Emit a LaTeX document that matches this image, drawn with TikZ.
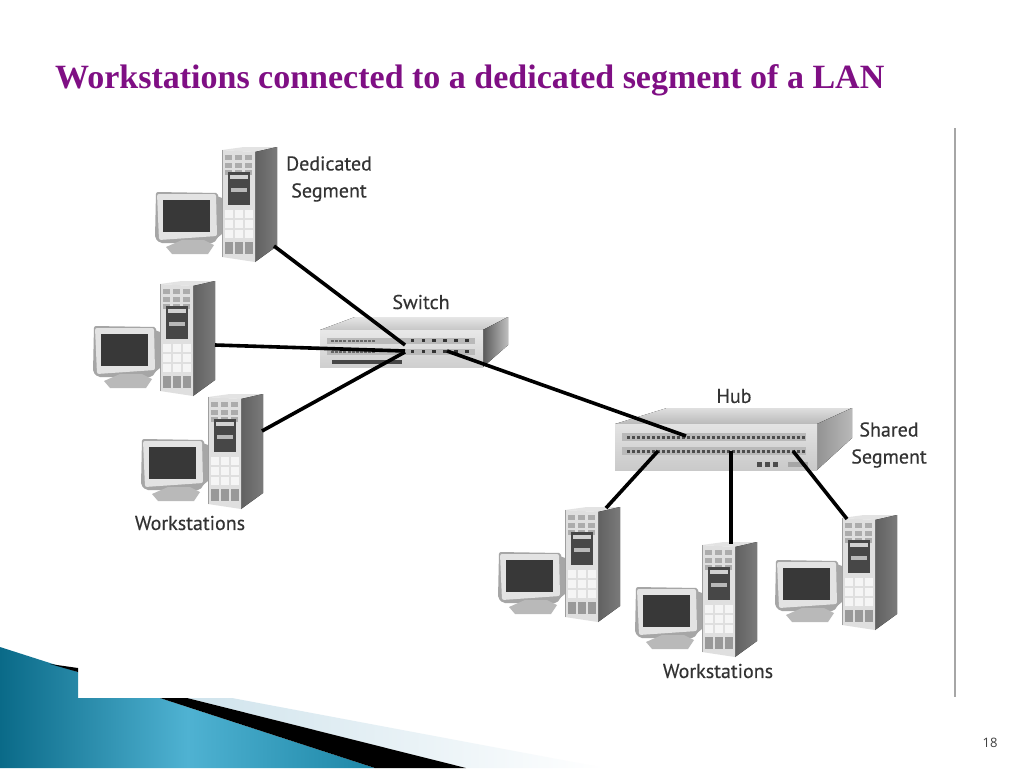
\documentclass[tikz,border=0pt]{standalone}
\usepackage{fontspec}
\setmainfont{Liberation Serif}
\newfontfamily\lab[FakeBold=0.35]{PT Sans}
\newfontfamily\num{Open Sans}
\definecolor{titlec}{HTML}{7F0F84}
\definecolor{labc}{HTML}{333333}
\definecolor{tealA}{HTML}{0A6A88}
\definecolor{tealB}{HTML}{4FB2D2}
\definecolor{tealC}{HTML}{1C86A6}
\definecolor{paleA}{HTML}{CFE3EC}
\tikzset{
  x=1pt,y=-1pt,
  lbl/.style={font=\lab\fontsize{20}{27}\selectfont,text=labc,align=center,inner sep=0pt},
  cable/.style={line width=3.6pt,black},
  wkst/.pic={
    % monitor
    \fill[gray!70,rounded corners=2pt] (-4,43) -- (-66,42) -- (-67,88) -- (-62,93) -- (-8,93) -- (-2,84) -- cycle;
    \fill[gray!22,rounded corners=2pt] (-65,44) -- (-6,44) -- (-5,86) -- (-63,90) -- cycle;
    \fill[gray!70] (-5,46) -- (0,48) -- (0,84) -- (-5,88) -- cycle;
    \fill[black!78] (-59,50) -- (-12,50) -- (-12,82) -- (-59,82) -- cycle;
    \fill[gray!55] (-40,90) -- (-18,90) -- (-8,95) -- (-14,104) -- (-50,104) -- (-56,97) -- cycle;
    % tower
    \fill[gray!22] (0,0) -- (22,-3) -- (55,-3) -- (33,2) -- cycle;
    \fill[left color=black!62,right color=black!52] (33,2) -- (55,-3) -- (55,96) -- (33,112) -- cycle;
    \fill[gray!25] (0,0) -- (33,2) -- (33,112) -- (0,107) -- cycle;
    \draw[gray!75,line width=.6pt] (0,0) -- (0,107);
    \foreach \yy in {5,13,20} \foreach \xx in {3,13,23}
      \fill[gray!65] (\xx,\yy) rectangle ++(7,5);
    \fill[black!72] (6,22) rectangle (28,55);
    \fill[gray!35] (8,25) rectangle (26,29);
    \fill[gray!55] (9,38) rectangle (25,42);
    \foreach \yy in {60,70,80} \foreach \xx in {3,13,23}
      \fill[gray!8] (\xx,\yy) rectangle ++(8,8);
    \foreach \xx in {3,13,23}
      \fill[gray!80] (\xx,92) rectangle ++(8,12);
  }
}
\begin{document}
\begin{tikzpicture}
\useasboundingbox (0,0) rectangle (1024,768);
\fill[white] (0,0) rectangle (1024,768);
% footer decoration
\shade[left color=tealA,right color=tealC,middle color=tealB]
  (0,647) -- (78,672) -- (78,698) -- (160,698) -- (375,768) -- (0,768) -- cycle;
\shade[left color=paleA,right color=white] (187,698) -- (466,768) -- (605,768) -- (232,698) -- cycle;
\fill[black] (160,698) -- (187,698) -- (466,768) -- (375,768) -- cycle;
\fill[black] (50,664) -- (78,668) -- (78,672) -- cycle;
% rule
\coordinate (ruleTop) at (955,128);
\coordinate (ruleBot) at (955,697);
\draw[gray!70,line width=1.5pt] (ruleTop) -- (ruleBot);
% title
\node[anchor=base west,inner sep=0pt,text=titlec,font=\bfseries\fontsize{34}{38}\selectfont] (title) at (55,88) {Workstations connected to a dedicated segment of a LAN};
\node[anchor=center,inner sep=0pt,text=black!75,font=\num\fontsize{13}{15}\selectfont] (page) at (990,743) {18};
% workstations
\pic (wsA) at (222,150) {wkst};
\pic (wsB) at (160,284) {wkst};
\pic (wsC) at (208,397) {wkst};
\pic (wsD) at (565,510) {wkst};
\pic (wsE) at (702,545) {wkst};
\pic (wsF) at (842,518) {wkst};
% switch
\fill[top color=gray!20,bottom color=gray!45] (320,330) -- (355,317) -- (508,317) -- (483,330) -- cycle;
\fill[left color=black!65,right color=gray!50] (483,330) -- (508,317) -- (508,345) -- (483,367) -- cycle;
\fill[top color=gray!18,bottom color=gray!38] (320,330) rectangle (483,367);
\fill[gray!55] (327,338) rectangle (475,344);
\fill[gray!55] (327,349) rectangle (475,355);
\fill[black!72] (332,360) rectangle (402,364);
\foreach \xx in {412.7,423.3,434,445,456,467}{
  \fill[black!80] (\xx-1.7,339) rectangle ++(3.4,2.6);
  \fill[black!80] (\xx-1.7,350) rectangle ++(3.4,2.6);
}
\foreach \xx in {331,335,339,343,348,352,356,360,364,368,372}{
  \fill[black!60] (\xx,339.5) rectangle ++(2.5,2.5);
  \fill[black!60] (\xx,350.5) rectangle ++(2.5,2.5);
}
% hub
\fill[top color=gray!25,bottom color=gray!55] (615,424) -- (667,408) -- (852,408) -- (817,424) -- cycle;
\fill[left color=gray!85,right color=gray!55] (817,424) -- (852,408) -- (852,438) -- (817,470) -- cycle;
\fill[top color=gray!22,bottom color=gray!42] (615,424) rectangle (817,470);
\fill[gray!55] (622,433) rectangle (806,441);
\fill[gray!55] (622,447) rectangle (806,455);
\foreach \i in {0,...,35}{
  \fill[black!70] (627+5*\i,435.5) rectangle ++(3,3);
  \fill[black!70] (627+5*\i,449.5) rectangle ++(3,3);
}
\foreach \xx in {757,765,773} \fill[black!70] (\xx,462) rectangle ++(5,5);
\fill[gray!70] (788,462) rectangle (808,467);
% connector ends
\coordinate (portA) at (274,246);
\coordinate (portB) at (215,345);
\coordinate (portC) at (262,431);
\coordinate (swA) at (405,345);
\coordinate (swB) at (405,351);
\coordinate (swC) at (405,352);
\coordinate (swD) at (447,351);
\coordinate (hubIn) at (686,436);
\coordinate (hubD) at (658,451);
\coordinate (hubE) at (731,451);
\coordinate (hubF) at (793,451);
\coordinate (portD) at (606,508);
\coordinate (portE) at (731,544);
\coordinate (portF) at (847,519);
\draw[cable] (portA) -- (swA);
\draw[cable] (portB) -- (swB);
\draw[cable] (portC) -- (swC);
\draw[cable] (swD) -- (hubIn);
\draw[cable] (hubD) -- (portD);
\draw[cable] (hubE) -- (portE);
\draw[cable] (hubF) -- (portF);
% labels
\node[lbl] (ldedic) at (329,179) {Dedicated\\Segment};
\node[lbl] (lswitch) at (421,302) {Switch};
\node[lbl] (lhub) at (734,396) {Hub};
\node[lbl] (lshared) at (889,445) {Shared\\Segment};
\node[lbl] (lwsL) at (190,523) {Workstations};
\node[lbl] (lwsR) at (718,671) {Workstations};
\end{tikzpicture}
\end{document}
